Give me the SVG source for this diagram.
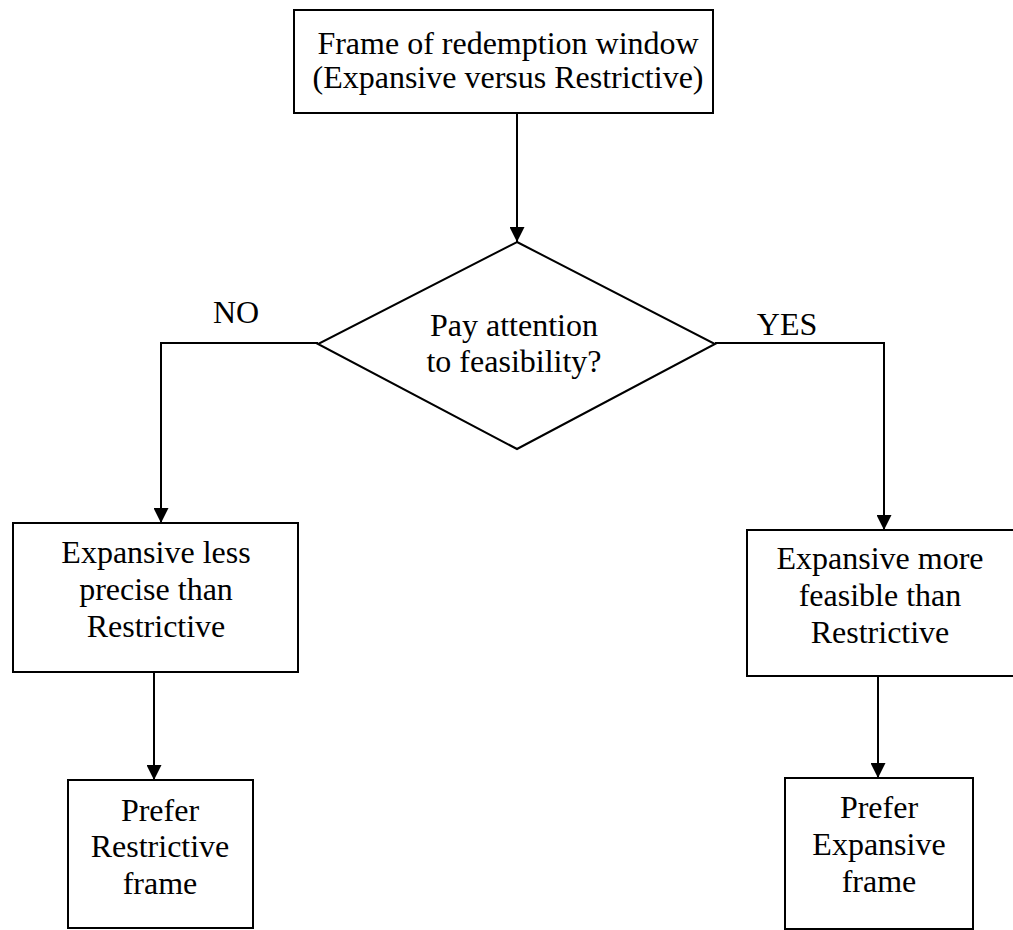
<svg xmlns="http://www.w3.org/2000/svg" width="1013" height="930" viewBox="0 0 1013 930">
<style>
.box{fill:#fff;stroke:#000;stroke-width:2}
.t{font-family:"Liberation Serif","Times New Roman",serif;font-size:32px;fill:#000;text-anchor:middle}
.c{fill:none;stroke:#000;stroke-width:2}
</style>
<defs>
<marker id="ah" markerUnits="userSpaceOnUse" markerWidth="15" markerHeight="15" refX="15" refY="7.5" orient="auto" viewBox="0 0 15 15">
<path d="M0,0 L15,7.5 L0,15 Z" fill="#000"/>
</marker>
</defs>
<rect width="1013" height="930" fill="#fff"/>
<g id="connectors">
<line class="c" x1="517" y1="113" x2="517" y2="242" marker-end="url(#ah)"/>
<polyline class="c" points="318,343 161,343 161,523" marker-end="url(#ah)"/>
<polyline class="c" points="715,343 884,343 884,530" marker-end="url(#ah)"/>
<line class="c" x1="154" y1="672" x2="154" y2="780" marker-end="url(#ah)"/>
<line class="c" x1="878" y1="676" x2="878" y2="778" marker-end="url(#ah)"/>
<text class="t" x="236" y="323">NO</text>
<text class="t" x="787" y="335">YES</text>
</g>
<g id="start">
<rect class="box" x="294" y="10" width="419" height="103"/>
<text class="t" x="508" y="54">Frame of redemption window</text>
<text class="t" x="508" y="88">(Expansive versus Restrictive)</text>
</g>
<g id="decision">
<polygon class="box" points="517,242 715,344 517,449 318,344"/>
<text class="t" x="514" y="336">Pay attention</text>
<text class="t" x="514" y="372">to feasibility?</text>
</g>
<g id="less-precise">
<rect class="box" x="13" y="523" width="285" height="149"/>
<text class="t" x="156" y="563">Expansive less</text>
<text class="t" x="156" y="600">precise than</text>
<text class="t" x="156" y="637">Restrictive</text>
</g>
<g id="more-feasible">
<rect class="box" x="747" y="530" width="290" height="146"/>
<text class="t" x="880" y="569">Expansive more</text>
<text class="t" x="880" y="606">feasible than</text>
<text class="t" x="880" y="643">Restrictive</text>
</g>
<g id="prefer-restrictive">
<rect class="box" x="68" y="780" width="185" height="148"/>
<text class="t" x="160" y="821">Prefer</text>
<text class="t" x="160" y="857">Restrictive</text>
<text class="t" x="160" y="894">frame</text>
</g>
<g id="prefer-expansive">
<rect class="box" x="785" y="778" width="188" height="151"/>
<text class="t" x="879" y="818">Prefer</text>
<text class="t" x="879" y="855">Expansive</text>
<text class="t" x="879" y="892">frame</text>
</g>
</svg>
